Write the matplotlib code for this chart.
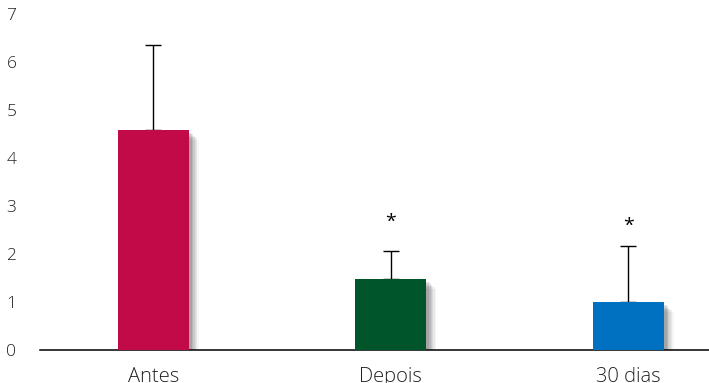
import matplotlib.pyplot as plt
import matplotlib.patheffects as pe

categorias = ['Antes', 'Depois', '30 dias']
medias = [4.58, 1.48, 1.0]
erros = [1.77, 0.58, 1.17]
cores = ['#C20A48', '#00552A', '#0070C0']
marcas = ['', '*', '*']
y_marcas = [0, 2.68, 2.58]
yticks = [0, 1, 2, 3, 4, 5, 6, 7]

plt.rcParams['font.family'] = ['Open Sans', 'DejaVu Sans']
plt.rcParams['font.weight'] = 'light'

fig = plt.figure(figsize=(7.09, 3.83), dpi=100)
ax = fig.add_axes([40 / 709, 33 / 383, 669 / 709, 336 / 383])

pos = list(range(len(categorias)))

# sombra suave das barras
sombra = [pe.SimplePatchShadow(offset=(o, -o), shadow_rgbFace='black', alpha=a)
          for o, a in [(7, 0.04), (6, 0.05), (5, 0.06), (4, 0.07), (3, 0.09), (2, 0.1)]]
barras = ax.bar(pos, medias, width=0.3, color=cores, zorder=3)
for b in barras:
    b.set_path_effects(sombra + [pe.Normal()])

ax.errorbar(pos, medias, yerr=[[0, 0, 0], erros], fmt='none', ecolor='black',
            elinewidth=1.0, capsize=6, capthick=1.0, zorder=2)

for x, m, y in zip(pos, marcas, y_marcas):
    if m:
        ax.text(x, y, m, ha='center', va='center', fontsize=14, fontweight='normal')

ax.set_xlim(-0.478, 2.34)
ax.set_ylim(0, 7)
ax.set_yticks(yticks)
ax.set_xticks(pos)
ax.set_xticklabels(categorias, fontsize=14.5, color='#222222')
ax.tick_params(axis='y', length=0, pad=17, labelsize=12.5, labelcolor='#222222')
ax.tick_params(axis='x', length=0, pad=12)
for s in ['top', 'right', 'left']:
    ax.spines[s].set_visible(False)
ax.spines['bottom'].set_linewidth(1.1)

fig.savefig('out.png', dpi=100)
